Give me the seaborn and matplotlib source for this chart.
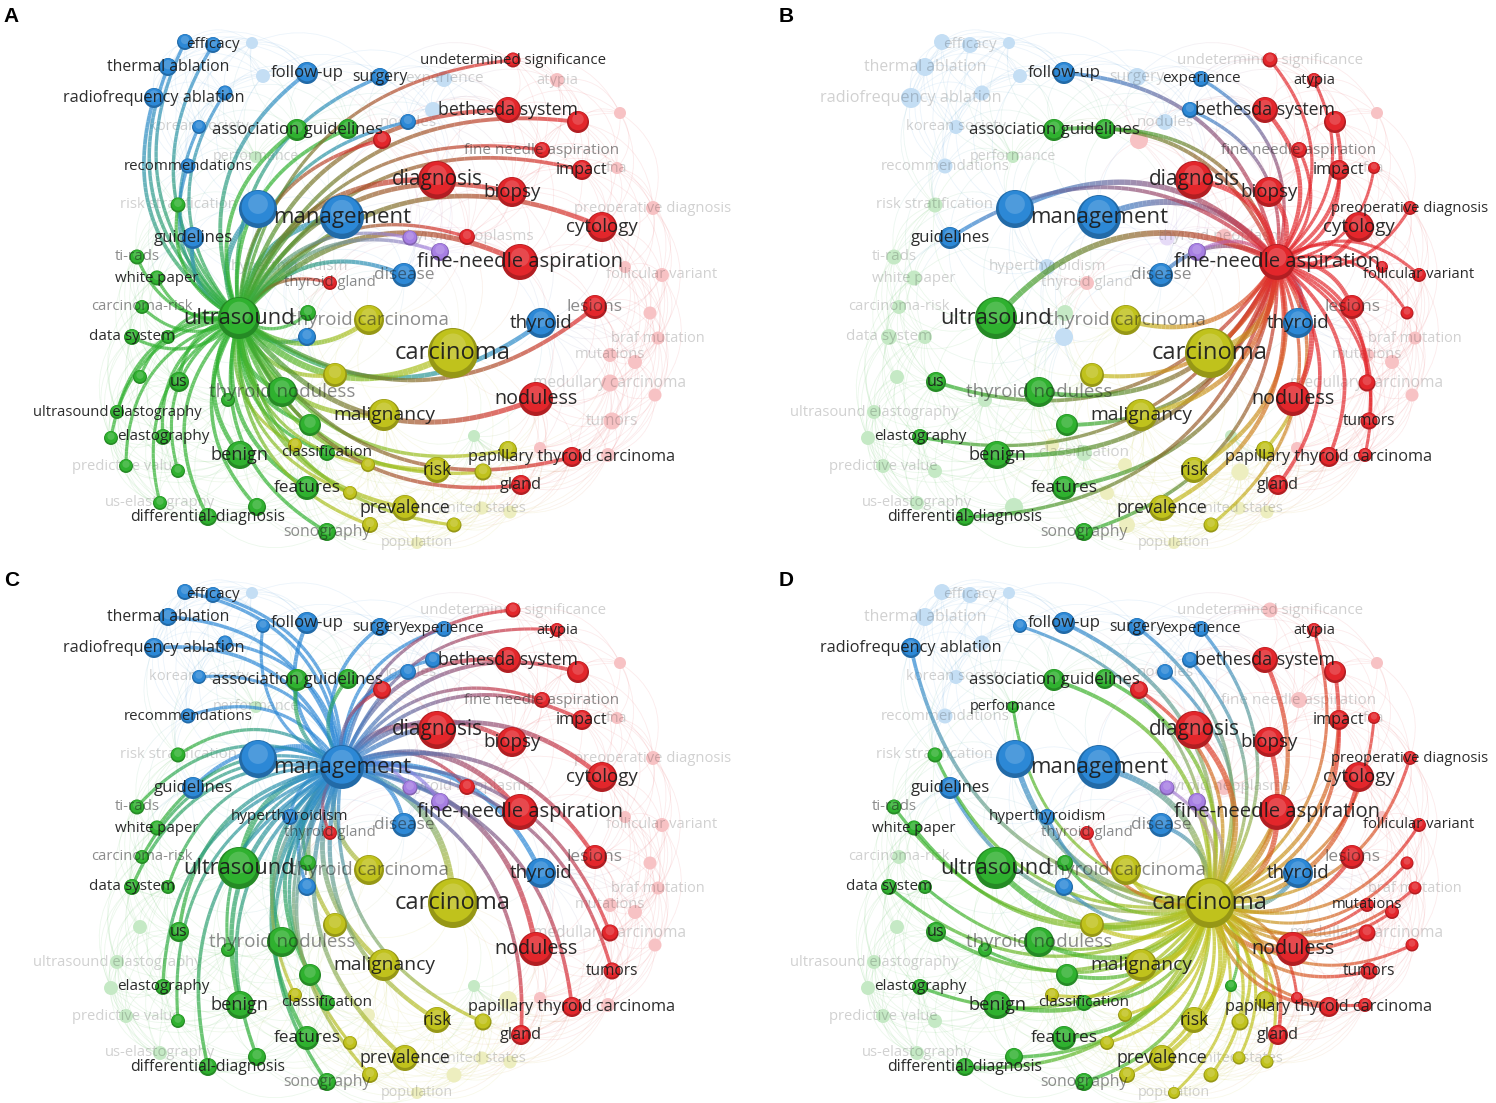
import numpy as np
import pandas as pd
import matplotlib
matplotlib.use("Agg")
import matplotlib.pyplot as plt
from matplotlib.collections import LineCollection
from matplotlib.colors import to_rgb
import seaborn as sns

# ------------------------------------------------------------------ data
terms = ["", "efficacy", "", "thermal ablation", "", "follow-up", "surgery", "experience",
         "radiofrequency ablation", "", "", "nodules", "korean society", "recommendations", "",
         "management", "guidelines", "hyperthyroidism", "disease", "", "thyroid",
         "association guidelines", "", "performance", "risk stratification", "ti-rads", "white paper",
         "carcinoma-risk", "ultrasound", "", "data system", "", "", "us", "", "thyroid noduless",
         "ultrasound elastography", "", "", "elastography", "benign", "classification",
         "predictive value", "", "features", "us-elastography", "", "differential-diagnosis",
         "sonography", "",
         "thyroid carcinoma", "carcinoma", "", "malignancy", "", "", "risk", "", "", "",
         "prevalence", "united states", "", "", "", "population",
         "undetermined significance", "atypia", "", "bethesda system", "", "", "fine needle aspiration",
         "impact", "fna", "diagnosis", "biopsy", "preoperative diagnosis", "cytology",
         "thyroid neoplasms", "fine-needle aspiration", "", "follicular variant", "lesions", "",
         "braf mutation", "mutations", "", "medullary carcinoma", "", "noduless", "tumors", "",
         "papillary thyroid carcinoma", "", "gland", "thyroid gland",
         "", ""]
map_x = [185, 213, 252, 168, 263, 307, 380, 444, 154, 225, 433, 408, 199, 188, 258,
         342, 193, 290, 404, 307, 541,
         297, 348, 256, 178, 137, 157, 142, 239, 308, 132, 168, 140, 179, 228, 282,
         117, 310, 111, 163, 240, 327, 126, 178, 307, 160, 257, 208, 327, 474,
         369, 453, 335, 384, 295, 368, 437, 483, 508, 350, 405, 482, 510, 370, 454, 417,
         513, 557, 620, 508, 578, 382, 542, 582, 617, 437, 512, 653, 602, 467, 520, 625,
         662, 595, 650, 658, 610, 635, 610, 655, 536, 612, 540, 572, 608, 521, 330,
         410, 440]
map_y = [42, 45, 43, 67, 76, 73, 77, 79, 98, 93, 110, 122, 127, 166, 209,
         217, 238, 267, 275, 337, 323,
         130, 129, 157, 205, 257, 278, 307, 318, 313, 337, 337, 377, 382, 400, 392,
         412, 425, 438, 437, 455, 453, 466, 471, 488, 503, 507, 517, 532, 436,
         320, 353, 375, 415, 445, 465, 470, 472, 450, 493, 508, 508, 512, 525, 525, 543,
         60, 80, 113, 110, 122, 140, 150, 170, 168, 180, 192, 208, 227, 237, 262, 267,
         275, 307, 313, 338, 355, 362, 383, 395, 399, 421, 448, 457, 455, 485, 283,
         238, 252]
occurrences = [51, 51, 29, 65, 39, 97, 65, 51, 80, 45, 51, 51, 39, 45, 289,
               387, 97, 51, 115, 65, 180,
               97, 80, 29, 45, 45, 45, 39, 353, 51, 51, 39, 39, 80, 39, 180,
               39, 97, 39, 51, 157, 51, 39, 39, 115, 39, 65, 65, 65, 29,
               180, 500, 115, 205, 39, 39, 135, 58, 65, 39, 135, 34, 34, 51, 45, 29,
               45, 39, 29, 135, 97, 65, 51, 80, 29, 289, 180, 39, 180, 51, 259, 29,
               39, 115, 34, 34, 39, 39, 58, 34, 231, 58, 29, 80, 39, 80, 39,
               45, 65]
cluster = (["b"] * 21 + ["g"] * 29 + ["y"] * 16 + ["r"] * 31 + ["p"] * 2)

panel_letters = ["A", "B", "C", "D"]
focus_terms = ["ultrasound", "fine-needle aspiration", "management", "carcinoma"]
faded_A = [2, 4, 7, 10, 17, 23, 49, 61, 62, 65, 67, 68, 74, 77, 81, 82, 84, 85, 86, 87,
           88, 89, 91, 92, 94]
faded_B = [0, 1, 2, 3, 4, 6, 8, 9, 11, 12, 13, 17, 19, 23, 24, 25, 26, 27, 29, 30, 31, 32,
           34, 36, 38, 41, 42, 43, 45, 46, 49, 54, 55, 57, 59, 61, 62, 63, 65, 68, 71, 79,
           85, 86, 87, 89, 92, 96, 97]
faded_C = [2, 23, 32, 36, 38, 42, 45, 49, 55, 58, 61, 62, 64, 65, 68, 74, 77, 81, 82, 84,
           85, 86, 87, 89, 92, 94]
faded_D = [0, 1, 2, 3, 9, 12, 13, 27, 32, 36, 38, 42, 43, 45, 66, 68, 72, 79, 81]
faded_sets = [faded_A, faded_B, faded_C, faded_D]
dim_label_terms = [[], ["undetermined significance"], ["undetermined significance"], []]

# ------------------------------------------------------------------ style
W, H = 1496, 1103
palette = {"r": "#e3262b", "g": "#2fb12f", "b": "#2c88d6", "y": "#c0c21c", "p": "#a77fe3"}
gray_labels = {"thyroid noduless", "disease", "thyroid carcinoma", "lesions", "sonography",
               "ti-rads", "carcinoma-risk", "fine needle aspiration", "thyroid gland"}
faint_labels = {"korean society", "population", "braf mutation", "medullary carcinoma",
                "united states", "fna", "thyroid neoplasms", "predictive value",
                "us-elastography", "risk stratification", "nodules"}
CENTER = np.array([390.0, 290.0])

sns.set_theme(style="white")
plt.rcParams['font.family'] = ['Open Sans', 'DejaVu Sans']

df = pd.DataFrame({"term": terms, "x": map_x, "y": map_y, "occ": occurrences,
                   "cluster": cluster})
df["r"] = np.sqrt(df["occ"] / 0.8)          # radius in px
OMIN, OMAX = df["occ"].min(), df["occ"].max()
K = 2.592                                    # occ -> marker area (pt^2)


def mix(c, other, f):
    c, other = np.array(to_rgb(c)), np.array(to_rgb(other))
    return tuple(c * (1 - f) + other * f)


def curve(p0, p1, c=0.38, n=30):
    p0, p1 = np.asarray(p0, float), np.asarray(p1, float)
    d = p1 - p0
    mid = (p0 + p1) / 2
    perp = np.array([d[1], -d[0]])
    if np.dot(perp, mid - CENTER) < 0:
        perp = -perp
    ctrl = mid + c * perp
    t = np.linspace(0, 1, n)[:, None]
    return (1 - t) ** 2 * p0 + 2 * (1 - t) * t * ctrl + t ** 2 * p1


def gradient_segments(pts, c0, c1, alpha):
    segs = np.stack([pts[:-1], pts[1:]], axis=1)
    t = np.linspace(0, 1, len(segs))[:, None]
    cols = np.array(to_rgb(c0)) * (1 - t) + np.array(to_rgb(c1)) * t
    cols = np.hstack([cols, np.full((len(segs), 1), alpha)])
    return segs, cols


# background edge pairs (near neighbours)
xy = df[["x", "y"]].to_numpy(float)
dist = np.sqrt(((xy[:, None, :] - xy[None, :, :]) ** 2).sum(-1))
bg_pairs = [(i, j) for i in range(len(df)) for j in range(i + 1, len(df)) if dist[i, j] < 140]

fig = plt.figure(figsize=(W / 100, H / 100), dpi=100)
fig.patch.set_facecolor("white")
panels = [(0, 0, 757, 550), (757, 0, 739, 550), (0, 550, 757, 553), (757, 550, 739, 553)]
letter_pos = [(11, 16), (786, 16), (12, 580), (786, 580)]

for k, (ox, oy, w, h) in enumerate(panels):
    ax = fig.add_axes([ox / W, 1 - (oy + h) / H, w / W, h / H])
    faded = set(faded_sets[k])
    dims = set(dim_label_terms[k])
    f_idx = terms.index(focus_terms[k])
    active = np.array([i not in faded for i in range(len(df))])

    # background web
    segs_all, cols_all = [], []
    for i, j in bg_pairs:
        pts = curve(xy[i], xy[j], n=12)
        s, c = gradient_segments(pts, palette[cluster[i]], palette[cluster[j]], 0.09)
        segs_all.append(s)
        cols_all.append(c)
    ax.add_collection(LineCollection(np.concatenate(segs_all), colors=np.concatenate(cols_all),
                                     linewidths=0.6, zorder=1, capstyle="butt"))

    # faded nodes
    dff = df[~active].copy()
    pal_f = {c: mix(v, "white", 0.72) for c, v in palette.items()}
    sns.scatterplot(data=dff, x="x", y="y", hue="cluster", palette=pal_f, size="occ",
                    sizes=(K * OMIN, K * OMAX), size_norm=(OMIN, OMAX), linewidth=0,
                    legend=False, ax=ax, zorder=2)

    # faint / inactive labels (under highlighted edges)
    for i in range(len(df)):
        t = terms[i]
        if not t:
            continue
        if t in faint_labels or t in dims or (not active[i]):
            ax.text(df.x[i], df.y[i], t, ha="center", va="center",
                    fontsize=8.1 + 0.36 * df.r[i], color="#1a1a1a", alpha=0.2,
                    zorder=3, clip_on=False)

    # highlighted edges from focus node
    segs_all, cols_all, lws = [], [], []
    for j in np.where(active)[0]:
        if j == f_idx:
            continue
        pts = curve(xy[f_idx], xy[j], n=48)
        s, c = gradient_segments(pts, palette[cluster[f_idx]], palette[cluster[j]], 0.7)
        segs_all.append(s)
        cols_all.append(c)
        lws += [(1.8 + 0.19 * df.r[j]) * 0.72] * len(s)
    ax.add_collection(LineCollection(np.concatenate(segs_all), colors=np.concatenate(cols_all),
                                     linewidths=lws, zorder=4, capstyle="butt",
                                     joinstyle="round"))

    # active nodes with pseudo-3D shading
    dfa = df[active].copy()
    layers = [(1.0, 0.0, {c: mix(v, "black", 0.22) for c, v in palette.items()}, 1.0),
              (0.86, 0.10, palette, 1.0),
              (0.52, 0.26, {c: mix(v, "white", 0.22) for c, v in palette.items()}, 0.75)]
    for li, (scale, dy, pal, al) in enumerate(layers):
        d = dfa.copy()
        d["y"] = d["y"] - dy * d["r"]
        sns.scatterplot(data=d, x="x", y="y", hue="cluster", palette=pal, size="occ",
                        sizes=(K * OMIN * scale ** 2, K * OMAX * scale ** 2),
                        size_norm=(OMIN, OMAX), linewidth=0, alpha=al, legend=False,
                        ax=ax, zorder=5 + 0.1 * li)

    # active labels (on top)
    for i in range(len(df)):
        t = terms[i]
        if not t or t in faint_labels or t in dims or not active[i]:
            continue
        a = 0.5 if t in gray_labels else 0.92
        ax.text(df.x[i], df.y[i], t, ha="center", va="center",
                fontsize=8.1 + 0.36 * df.r[i], color="#1a1a1a", alpha=a, zorder=6,
                clip_on=False)

    ax.set_xlim(0, w)
    ax.set_ylim(h, 0)
    ax.axis("off")

for letter, (lx, ly) in zip(panel_letters, letter_pos):
    fig.text(lx / W, 1 - ly / H, letter, ha="center", va="center", fontsize=15,
             fontweight="bold", family=["Liberation Sans", "DejaVu Sans"], color="black")

fig.savefig("out.png", dpi=100, facecolor="white")
